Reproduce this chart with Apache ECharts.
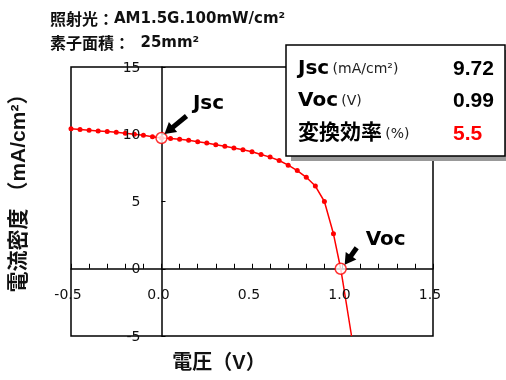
<!DOCTYPE html>
<html><head><meta charset="utf-8">
<script src="https://cdn.jsdelivr.net/npm/echarts/dist/echarts.min.js"></script>
<style>html,body{margin:0;padding:0;background:#fff}#c{width:506px;height:380px}</style>
</head><body><div id="c"></div>
<script>
// ---- data ----
const voltage = [-0.5,-0.45,-0.4,-0.35,-0.3,-0.25,-0.2,-0.15,-0.1,-0.05,0,0.05,0.1,0.15,0.2,0.25,0.3,0.35,0.4,0.45,0.5,0.55,0.6,0.65,0.7,0.75,0.8,0.85,0.9,0.95];
const currentDensity = [10.4,10.35,10.3,10.25,10.2,10.15,10.08,10.0,9.92,9.82,9.72,9.68,9.62,9.55,9.45,9.35,9.22,9.1,8.98,8.85,8.7,8.5,8.3,8.05,7.7,7.3,6.8,6.15,5.0,2.6];
const tailVoltage = [0.95,0.99,1.0,1.05];
const tailCurrent = [2.6,0,-0.8,-5.0];
const keyPoints = [[0,9.72],[0.99,0]];
const keyNames = ['Jsc','Voc'];
const xTickValues = [-0.5,0,0.5,1.0,1.5];
const xTickLabels = ['-0.5','0.0','0.5','1.0','1.5'];
const yTickValues = [-5,0,5,10,15];
const yTickLabels = ['-5','0','5','10','15'];
const summaryLabels = ['Jsc','Voc','変換効率'];
const summaryUnits = ['(mA/cm²)','(V)','(%)'];
const summaryValues = ['9.72','0.99','5.5'];
const titleCjk = ['照射光：','素子面積：'];
const titleLatin = ['AM1.5G.100mW/cm²','  25mm²'];
const xName = '電圧（V）';
const yName = '電流密度 （mA/cm²）';

const latin = '"Liberation Sans", Arial, "Noto Sans CJK JP", sans-serif';
const wide = '"DejaVu Sans", "Noto Sans CJK JP", sans-serif';
const chart = echarts.init(document.getElementById('c'));
const mainData = voltage.map((v,i)=>[v,currentDensity[i]]);
const tailData = tailVoltage.map((v,i)=>[v,tailCurrent[i]]);

chart.setOption({
  animation:false,
  grid:{left:71,right:73,top:67,bottom:44,show:true,borderColor:'#000',borderWidth:1.5,backgroundColor:'transparent'},
  xAxis:{type:'value',min:xTickValues[0],max:xTickValues[xTickValues.length-1],interval:0.5,
    axisLine:{onZero:true,lineStyle:{color:'#000',width:1.5}},
    axisTick:{inside:true,length:5,lineStyle:{color:'#000'}},
    minorTick:{show:true,splitNumber:5,length:5,lineStyle:{color:'#000'}},
    splitLine:{show:false},
    axisLabel:{show:false}},
  yAxis:{type:'value',min:yTickValues[0],max:yTickValues[yTickValues.length-1],interval:5,
    axisLine:{onZero:true,lineStyle:{color:'#000',width:1.5}},
    axisTick:{inside:true,length:4,lineStyle:{color:'#000'}},
    splitLine:{show:false},
    axisLabel:{show:false}},
  series:[
    {type:'line',data:mainData,symbol:'circle',symbolSize:5,showSymbol:true,
     lineStyle:{color:'#ff0000',width:1.5},itemStyle:{color:'#ff0000'},z:3},
    {type:'line',data:tailData,symbol:'none',lineStyle:{color:'#ff0000',width:1.5},z:3},
    {type:'scatter',data:keyPoints,symbol:'circle',symbolSize:11,
     itemStyle:{color:'#fff',borderColor:'#ff0000',borderWidth:1.5},z:5}
  ]
});

const g=[];
// tick labels placed along the zero axes
const origin = chart.convertToPixel({gridIndex:0},[0,0]);
xTickValues.forEach((v,i)=>{
  const px=chart.convertToPixel({gridIndex:0},[v,0]);
  g.push({type:'text',x:px[0]-3,y:origin[1]+27,z:10,style:{text:xTickLabels[i],font:'14px '+wide,fill:'#111',textAlign:'center',textVerticalAlign:'middle'}});
});
yTickValues.forEach((v,i)=>{
  const px=chart.convertToPixel({gridIndex:0},[0,v]);
  g.push({type:'text',x:origin[0]-21,y:px[1]+1,z:10,style:{text:yTickLabels[i],font:'14px '+wide,fill:'#111',textAlign:'right',textVerticalAlign:'middle'}});
});

function arrow(tip, tail){
  const dx=tip[0]-tail[0], dy=tip[1]-tail[1];
  const L=Math.hypot(dx,dy), ux=dx/L, uy=dy/L, nx=-uy, ny=ux;
  const hl=11, hw=6.5;
  const bx=tip[0]-ux*hl, by=tip[1]-uy*hl;
  return [
    {type:'line',shape:{x1:tail[0],y1:tail[1],x2:bx+ux*2,y2:by+uy*2},style:{stroke:'#000',lineWidth:5},z:20},
    {type:'polygon',shape:{points:[tip,[bx+nx*hw,by+ny*hw],[bx-nx*hw,by-ny*hw]]},style:{fill:'#000'},z:20}
  ];
}
const tipOff=[[3,-4],[4,-4]], tailOff=[[25,-22],[16,-21]], textOff=[[47,-34],[45,-29]];
keyPoints.forEach((p,i)=>{
  const px=chart.convertToPixel({gridIndex:0},p);
  g.push(...arrow([px[0]+tipOff[i][0],px[1]+tipOff[i][1]],[px[0]+tailOff[i][0],px[1]+tailOff[i][1]]));
  g.push({type:'text',x:px[0]+textOff[i][0],y:px[1]+textOff[i][1],z:20,
    style:{text:keyNames[i],font:'bold 20px '+wide,fill:'#000',textAlign:'center',textVerticalAlign:'middle'}});
});

// summary box
const bx=286,by=45,bw=219,bh=111;
g.push({type:'rect',shape:{x:bx+5,y:by+5,width:bw,height:bh},style:{fill:'#999'},z:30});
g.push({type:'rect',shape:{x:bx,y:by,width:bw,height:bh},style:{fill:'#fff',stroke:'#000',lineWidth:1.5},z:31});
const rowY=[69,101,134];
summaryLabels.forEach((t,i)=>{
  g.push({type:'text',x:bx+12,y:rowY[i],z:32,style:{
    text:'{b|'+t+'} {s|'+summaryUnits[i]+'}',textVerticalAlign:'middle',
    rich:{b:{font:'bold '+(i===2?'21px':'20px')+' '+wide,fill:'#000'},s:{font:'14px '+wide,fill:'#222'}}}});
  g.push({type:'text',x:bx+167,y:rowY[i],z:32,style:{text:summaryValues[i],
    font:'bold 21px '+latin,fill:i===2?'#ff0000':'#000',textVerticalAlign:'middle'}});
});

// titles
titleCjk.forEach((t,i)=>{
  g.push({type:'text',x:50,y:19+i*24,z:32,style:{text:'{c|'+t+'}{l|'+titleLatin[i]+'}',textVerticalAlign:'middle',
    rich:{c:{font:'bold 16px "Noto Sans CJK JP", sans-serif',fill:'#111'},l:{font:'bold 15px '+wide,fill:'#111'}}}});
});
g.push({type:'text',x:219,y:363,z:32,style:{text:xName,font:'bold 20px '+latin,fill:'#111',textAlign:'center',textVerticalAlign:'middle'}});
g.push({type:'text',x:19,y:188,rotation:Math.PI/2,z:32,style:{text:yName,font:'bold 21px '+latin,fill:'#111',textAlign:'center',textVerticalAlign:'middle'}});

chart.setOption({graphic:{elements:g}});
</script></body></html>
